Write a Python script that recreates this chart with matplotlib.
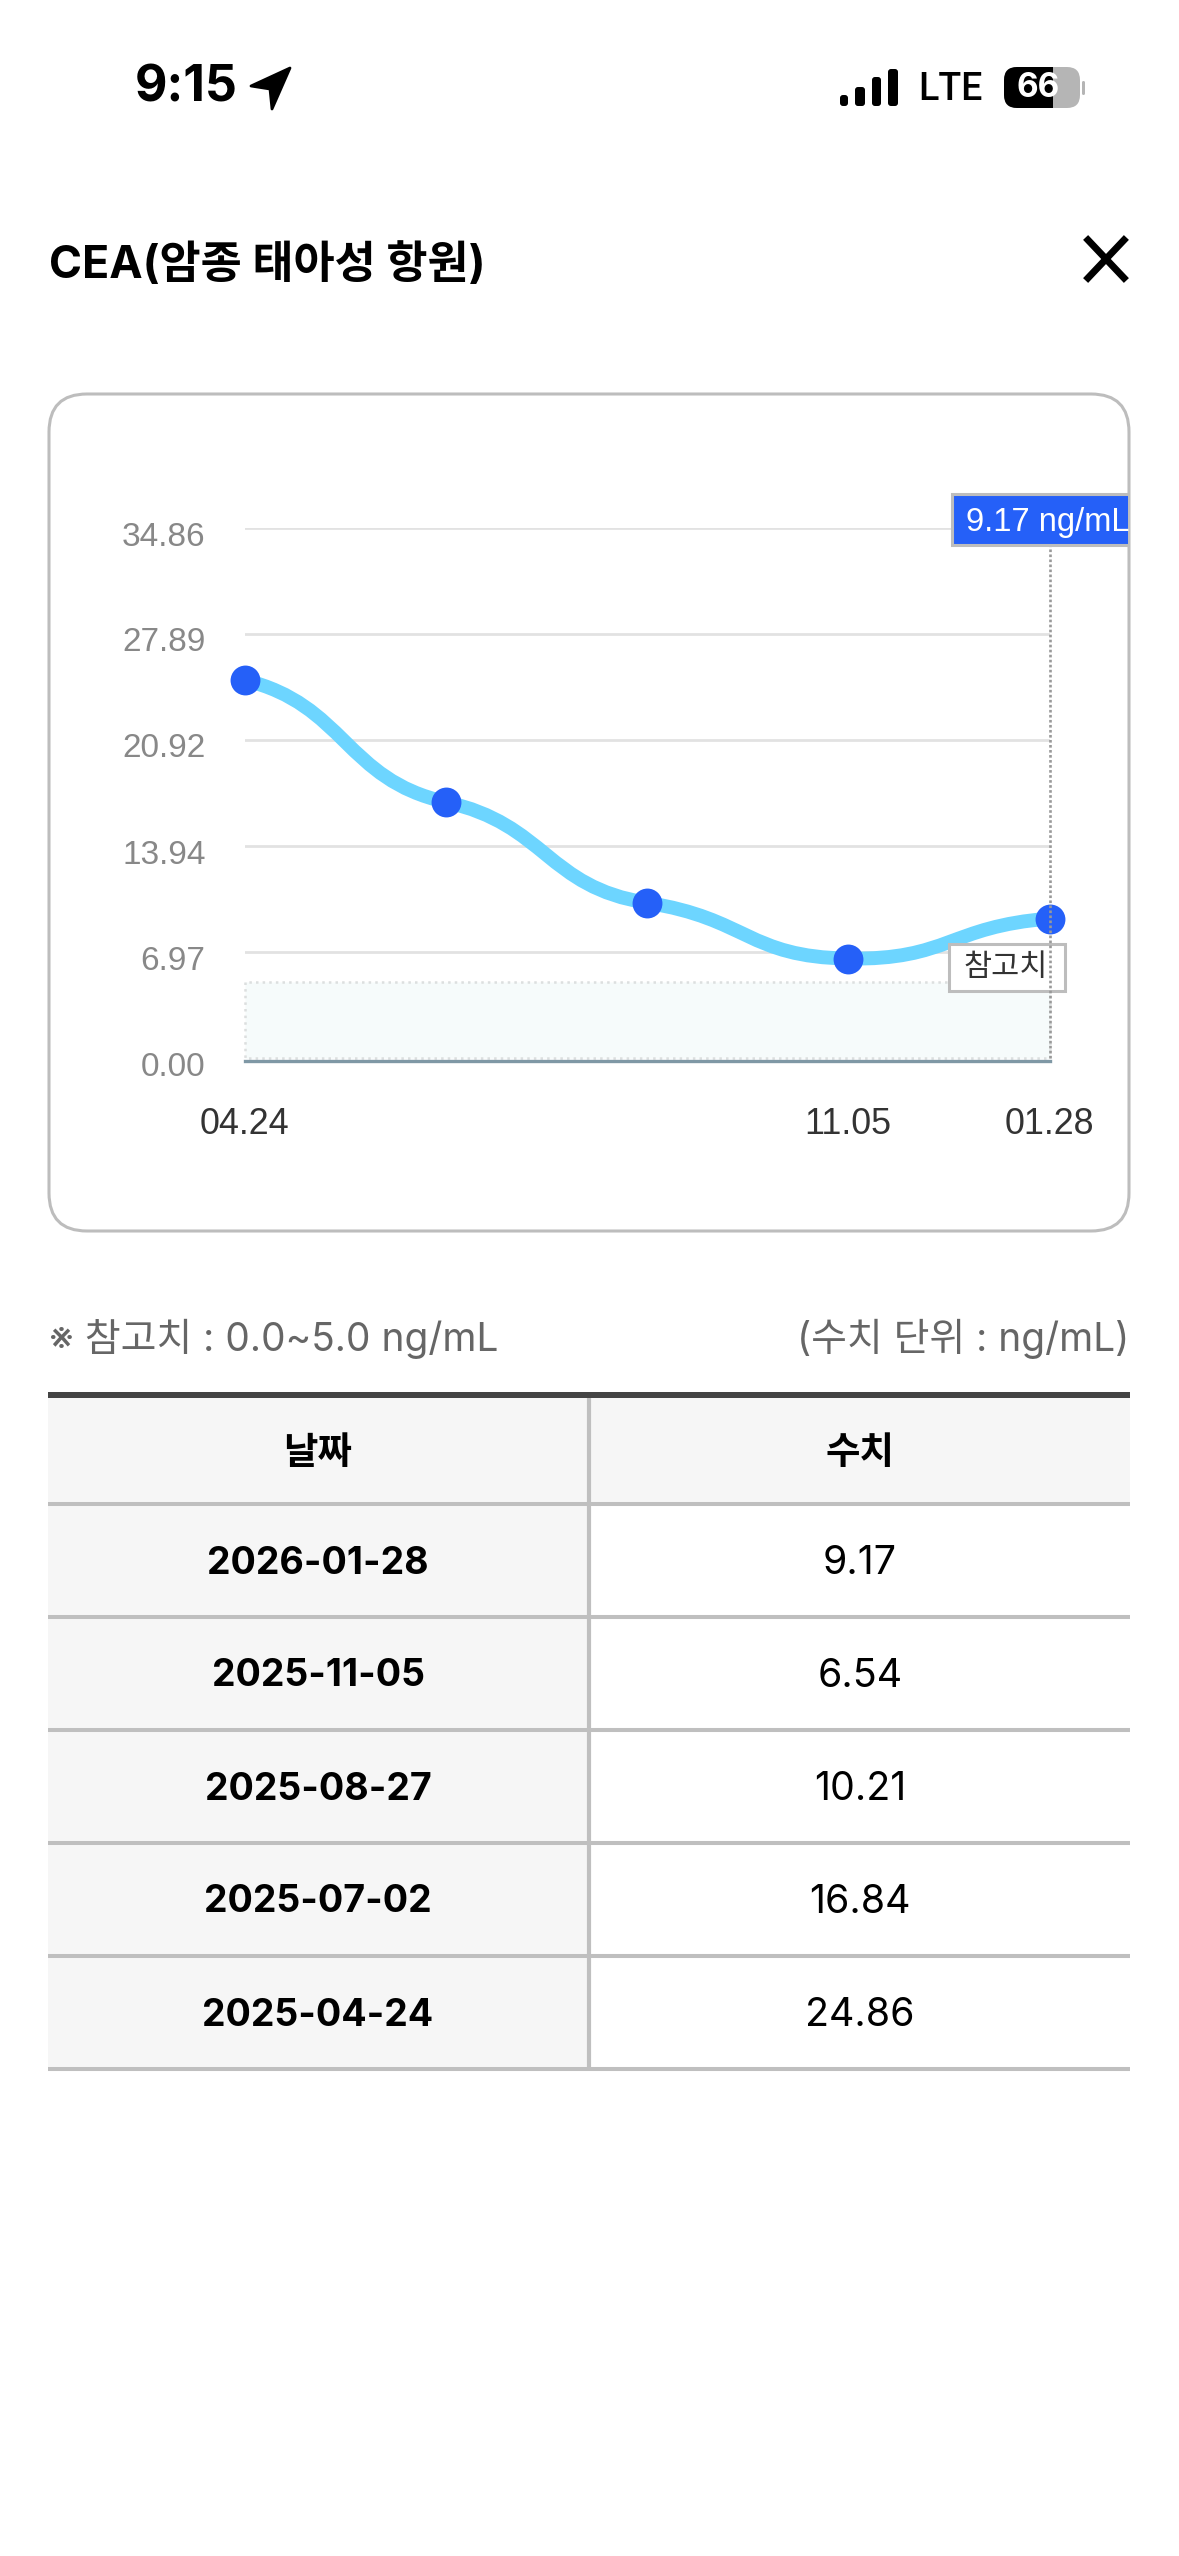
import numpy as np
import matplotlib
matplotlib.use('Agg')
import matplotlib.pyplot as plt
from matplotlib.patches import FancyBboxPatch, Rectangle, Polygon, PathPatch
from matplotlib.path import Path
from matplotlib.transforms import ScaledTranslation

W, H = 1179, 2556

# 표 데이터
dates = ['2026-01-28', '2025-11-05', '2025-08-27', '2025-07-02', '2025-04-24']
values = [9.17, 6.54, 10.21, 16.84, 24.86]
# 차트 데이터
y_ticks = [0.00, 6.97, 13.94, 20.92, 27.89, 34.86]
x_tick_pos = [0, 3, 4]
x_tick_labels = ['04.24', '11.05', '01.28']
ref_low, ref_high = 0.0, 5.0

KR = ['Inter', 'Noto Sans CJK KR', 'DejaVu Sans']
KR_ONLY = ['Noto Sans CJK KR', 'DejaVu Sans']
HELV = ['Liberation Sans', 'DejaVu Sans']
BLUE = '#2560f8'

fig = plt.figure(figsize=(W / 100, H / 100), dpi=100, facecolor='white')


def px_axes(z):
    a = fig.add_axes([0, 0, 1, 1], zorder=z)
    a.set_xlim(0, W)
    a.set_ylim(H, 0)
    a.axis('off')
    return a


ui = px_axes(0)

# 상태바
ui.text(135, 88, '9:15', family=KR, fontsize=36, fontweight='bold', va='center', ha='left', color='black')
ui.add_patch(Polygon([(290, 68), (251, 86), (270, 89), (272, 109)], closed=True, fc='black', ec='black', lw=2, joinstyle='round'))
for x0, x1, bar_top in [(840, 848, 95), (855, 865, 87), (872, 881, 77), (888, 898, 69)]:
    ui.add_patch(FancyBboxPatch((x0, bar_top), x1 - x0, 106 - bar_top, boxstyle='round,pad=0,rounding_size=3', fc='black', ec='none'))
ui.text(950, 89, 'LTE', family=['Roboto', 'DejaVu Sans'], fontsize=27, fontweight='medium', va='center', ha='center', color='black')
batt = FancyBboxPatch((1004, 67), 76, 41, boxstyle='round,pad=0,rounding_size=13', fc='#b5b5b5', ec='none')
ui.add_patch(batt)
black_part = Rectangle((1004, 67), 49, 41, fc='black', ec='none')
ui.add_patch(black_part)
black_part.set_clip_path(batt)
ui.add_patch(FancyBboxPatch((1082, 81), 3, 14, boxstyle='round,pad=0,rounding_size=1.5', fc='#b5b5b5', ec='none'))
ui.text(1038, 88, '66', family=KR, fontsize=24, fontweight='bold', va='center', ha='center', color='white')

# 제목
ui.text(49, 265, 'CEA(암종 태아성 항원)', family=KR, fontsize=32.2, fontweight='bold', va='center', ha='left', color='black')
ui.plot([1088, 1124], [240, 278], color='black', lw=5)
ui.plot([1088, 1124], [278, 240], color='black', lw=5)

# 카드
card = FancyBboxPatch((49, 394), 1080, 837, boxstyle='round,pad=0,rounding_size=38', fc='white', ec='#bdbdbd', lw=2.2)
ui.add_patch(card)

# 차트 영역
ax = fig.add_axes([244.5 / W, 1 - 1058 / H, (1049.5 - 244.5) / W, (1058 - 528) / H], zorder=1)
ax.patch.set_alpha(0)
x = np.arange(len(values))
y = np.array(values[::-1])
ax.set_xlim(x[0], x[-1])
ax.set_ylim(y_ticks[0], y_ticks[-1])

for s in ['top', 'left', 'right']:
    ax.spines[s].set_visible(False)
ax.spines['bottom'].set_position(('outward', 2.2))
ax.spines['bottom'].set_color('#7f98a5')
ax.spines['bottom'].set_linewidth(2.4)

ax.set_yticks(y_ticks)
ax.set_yticklabels(['%.2f' % v for v in y_ticks], family=HELV, fontsize=24, color='#888888')
ax.set_xticks(x_tick_pos)
ax.set_xticklabels(x_tick_labels, family=HELV, fontsize=25.8, color='#333333')
ax.tick_params(axis='y', length=0, pad=28)
ax.tick_params(axis='x', length=0, pad=33)
for t in ax.get_yticklabels():
    t.set_verticalalignment('center')
    t.set_transform(t.get_transform() + ScaledTranslation(0, -9 / 100, fig.dpi_scale_trans))
ax.grid(axis='y', color='#e2e2e2', lw=2)
ax.set_axisbelow(True)

# 참고치 범위
ax.fill_between([x[0], x[-1]], ref_low, ref_high, facecolor='#f6fbfb', edgecolor='#dcdfdf', linestyle=':', linewidth=1.8, zorder=1.5, clip_on=False)

# 부드러운 곡선 (베지어)
slope = np.zeros(len(y))
slope[1:-1] = 0.4 * (y[2:] - y[:-2]) / 2
slope[0] = 0.4 * (y[1] - y[0])
slope[-1] = 0.4 * (y[-1] - y[-2])
verts = [(x[0], y[0])]
codes = [Path.MOVETO]
for i in range(len(y) - 1):
    verts += [(x[i] + 0.5, y[i] + 0.5 * slope[i]), (x[i + 1] - 0.5, y[i + 1] - 0.5 * slope[i + 1]), (x[i + 1], y[i + 1])]
    codes += [Path.CURVE4, Path.CURVE4, Path.CURVE4]
ax.add_patch(PathPatch(Path(verts, codes), fc='none', ec='#6dd5ff', lw=10, capstyle='round', zorder=3, clip_on=False))
ax.plot(x, y, 'o', color=BLUE, ms=21.5, mec='none', zorder=4, clip_on=False)

# 툴팁
top = px_axes(2)
ax.add_patch(Rectangle((949, 944), 116, 47, fc='white', ec='#bdbdbd', lw=2.2, transform=ui.transData, zorder=4.5, clip_on=False))
ax.text(1006, 968, '참고치', family=KR_ONLY, fontsize=22, color='#333333', va='center', ha='center', transform=ui.transData, zorder=4.6)
ax.axvline(x[-1], color='#999999', lw=1.9, ls=(0, (1, 0.9)), zorder=5, clip_on=False)

clip = Rectangle((0, 0), 1129, H, transform=top.transData)
box = Rectangle((952, 493.5), 190, 51, fc=BLUE, ec='#bdbdbd', lw=2.2)
top.add_patch(box)
box.set_clip_path(clip)
tip = top.text(966, 523, '%.2f ng/mL' % values[0], family=HELV, fontsize=23.5, color='white', va='center', ha='left', clip_on=True)
tip.set_clip_path(clip)
top.add_patch(Rectangle((1128, 480), 2.2, 80, fc='#bdbdbd', ec='none'))
top.set_xlim(0, W)
top.set_ylim(H, 0)

# 안내 문구
ui.text(49, 1339, '※ 참고치 : 0.0~5.0 ng/mL', family=KR, fontsize=28, color='#666666', va='center', ha='left')
ui.text(1129, 1339, '(수치 단위 : ng/mL)', family=KR, fontsize=28, color='#666666', va='center', ha='right')

# 표
T_L, T_R, T_M = 48, 1130, 589
header_bottom, row_h = 1504, 113
ui.add_patch(Rectangle((T_L, 1392), T_R - T_L, header_bottom - 1392, fc='#f6f6f6', ec='none'))
ui.add_patch(Rectangle((T_L, header_bottom), T_M - T_L, row_h * len(dates), fc='#f6f6f6', ec='none'))
ui.add_patch(Rectangle((T_L, 1392), T_R - T_L, 6, fc='#444444', ec='none', zorder=3))
ui.plot([T_M, T_M], [1398, header_bottom + row_h * len(dates)], color='#bfbfbf', lw=3, solid_capstyle='butt')
for i in range(len(dates) + 1):
    yy = header_bottom + i * row_h
    ui.plot([T_L, T_R], [yy, yy], color='#bfbfbf', lw=2.9, solid_capstyle='butt', zorder=2)

ui.text(318, 1454, '날짜', family=KR, fontsize=27, fontweight='bold', va='center', ha='center', color='black')
ui.text(860, 1454, '수치', family=KR, fontsize=27, fontweight='bold', va='center', ha='center', color='black')
for i, (d, v) in enumerate(zip(dates, values)):
    yy = header_bottom + (i + 0.5) * row_h + 3
    ui.text(318, yy, d, family=KR, fontsize=27, fontweight='bold', va='center', ha='center', color='black')
    ui.text(860, yy, '%.2f' % v, family=KR, fontsize=28.3, va='center', ha='center', color='black')

fig.savefig('out.png', dpi=100, facecolor='white')
